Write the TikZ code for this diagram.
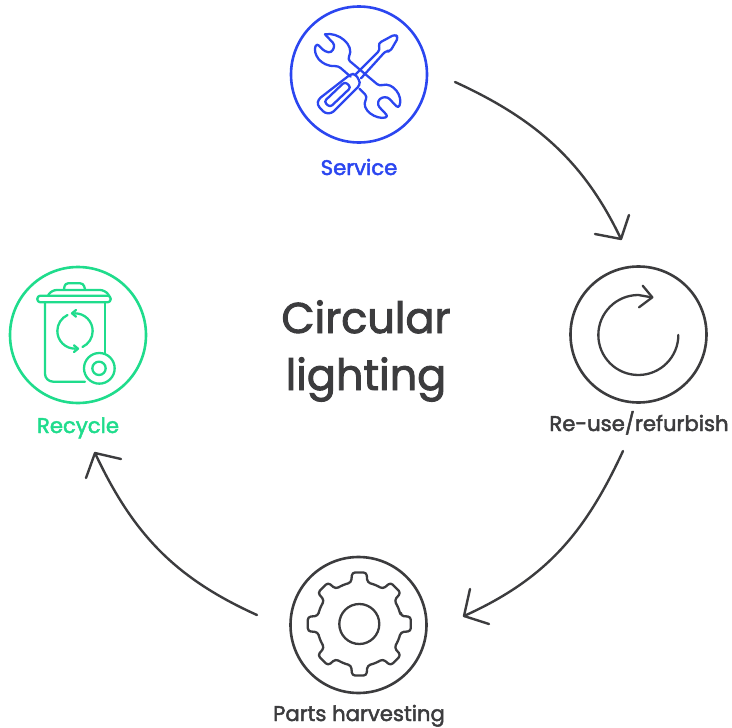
\documentclass[tikz,border=0pt]{standalone}
\usepackage{fontspec}
\setmainfont[FakeBold=2.2]{Poppins}
\definecolor{ink}{HTML}{3C3C3E}
\definecolor{blu}{HTML}{2B46F0}
\definecolor{grn}{HTML}{1FDC8C}
\tikzset{
  ring/.style={circle,draw=#1,line width=2.6pt,minimum size=136pt,inner sep=0pt},
  icon/.style={draw=#1,line width=2.3pt,line join=round,line cap=round},
  flow/.style={draw=ink,line width=2.4pt,line cap=round,line join=round},
  lab/.style={font=\fontsize{21.2}{24}\selectfont,text=#1,inner sep=0pt,anchor=base},
  title/.style={font=\fontsize{43}{50}\selectfont,text=ink,inner sep=0pt,anchor=base},
}
\begin{document}
\begin{tikzpicture}[x=1pt,y=-1pt]
\useasboundingbox (0,0) rectangle (732,728);
\node[ring=blu] (service) at (359,74.5) {};
\node[ring=ink] (reuse) at (638.5,334.5) {};
\node[ring=ink] (parts) at (358.5,625) {};
\node[ring=grn] (recycle) at (78,335) {};
\node[lab=blu] (lservice) at (359,175) {Service};
\node[lab=ink] (lreuse) at (639,431) {Re-use/refurbish};
\node[lab=ink] (lparts) at (359,721) {Parts harvesting};
\node[lab=grn] (lrecycle) at (78,433) {Recycle};
\node[title] (t1) at (366,333) {Circular};
\node[title] (t2) at (366,390) {lighting};
% flows
\coordinate (a1) at (455,82); \coordinate (a2) at (621,239);
\coordinate (b1) at (623,451); \coordinate (b2) at (464,616);
\coordinate (c1) at (257,615); \coordinate (c2) at (95,453);
\draw[flow] (a1) .. controls (537,119.5) and (584.5,162.5) .. (a2);
\draw[flow] (595,234) -- (a2) -- (629,215);
\draw[flow] (b1) .. controls (585,533) and (546,579) .. (b2);
\draw[flow] (489,624) -- (b2) -- (470,589);
\draw[flow] (c1) .. controls (175,578) and (133,534) .. (c2);
\draw[flow] (121,459) -- (c2) -- (86,478);
% service icon
\begin{scope}[shift={(280,0)},scale=1/3,rounded corners=3pt]
 \draw[icon=blu] (135,103) -- (165,135) -- (155,158) -- (135,155) -- (110,130)
   .. controls (98,160) and (120,200) .. (175,198) -- (212,230);
 \draw[icon=blu] (135,103) .. controls (175,95) and (225,135) .. (203,178) -- (298,258)
   .. controls (340,245) and (370,290) .. (355,325) -- (322,290) -- (298,295) -- (292,315) -- (325,350)
   .. controls (290,360) and (240,330) .. (262,290) -- (238,266);
 % screwdriver
 \draw[icon=blu] (213,222) -- (115,298) -- (112,315) -- (135,340) -- (155,340) -- (240,255) -- (238,240) -- (225,222) -- cycle;
 \draw[icon=blu] (132,305) -- (195,245) -- (213,262) -- (150,322) -- cycle;
 \draw[icon=blu] (228,222) -- (300,150) -- (295,130) -- (345,103) -- (355,112) -- (330,155) -- (318,152) -- (243,235);
\end{scope}
% recycle icon
\begin{scope}[shift={(0,260)},scale=1/3]
 \draw[icon=grn,rounded corners=3pt] (192,88) -- (195,70) -- (250,70) -- (255,88);
 \draw[icon=grn,rounded corners=5pt] (145,105) -- (155,90) -- (315,90) -- (328,108);
 \draw[icon=grn,rounded corners=3pt] (112,107) rectangle (332,127);
 \draw[icon=grn,rounded corners=8pt] (135,127) -- (135,365) -- (255,365);
 \draw[icon=grn] (315,127) -- (315,280);
 \draw[icon=grn] (298,325) circle[radius=46];
 \draw[icon=grn] (297,325) circle[radius=20];
 \draw[icon=grn] (225,160) arc[start angle=-90,end angle=65,radius=53];
 \draw[icon=grn] (225,266) arc[start angle=90,end angle=245,radius=53];
 \draw[icon=grn] (228,150) -- (216,160) -- (228,170);
 \draw[icon=grn] (222,256) -- (234,266) -- (222,276);
\end{scope}
% reuse icon
\begin{scope}[shift={(540,255)},scale=1/3]
 \draw[icon=ink] (415,240) arc[start angle=0,end angle=270,radius=120] -- (335,127);
 \draw[icon=ink] (308,92) -- (337,127) -- (297,157);
\end{scope}
% gear icon
\begin{scope}[shift={(359.3,624)},scale=1/3]
 \draw[icon=ink,rounded corners=3pt] (-11:127)
   \foreach \a in {0,45,...,315} {
     -- (\a-11:127) -- (\a-8:156) -- (\a+8:156) -- (\a+11:127) -- (\a+22.5:127)
   } -- cycle;
 \draw[icon=ink] (0,0) circle[radius=60];
\end{scope}
\end{tikzpicture}
\end{document}
